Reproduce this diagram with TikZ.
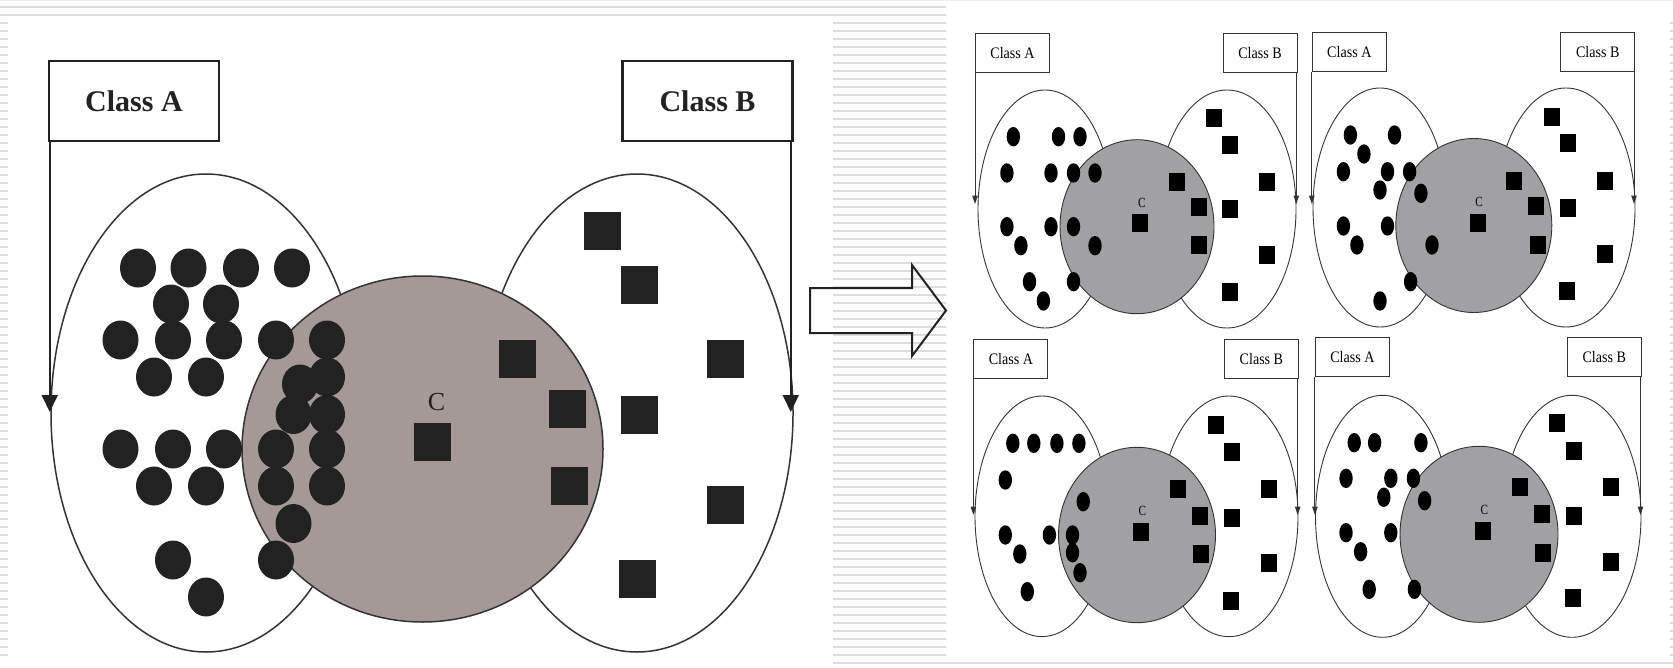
\documentclass[tikz,border=0pt]{standalone}
\usepackage{fontspec}
\setmainfont{Liberation Serif}
\usetikzlibrary{arrows.meta}
\definecolor{ink}{HTML}{222222}
\definecolor{edge}{HTML}{333333}
\definecolor{bigdisc}{HTML}{A59998}
\definecolor{smalldisc}{HTML}{A1A1A3}
\definecolor{stripe}{HTML}{DDDDDD}
\begin{document}
\begin{tikzpicture}[x=0.5pt,y=-0.5pt,
  stripeline/.style={draw=stripe,line width=0.9pt},
  bigbox/.style={draw=ink,line width=1.25pt,fill=white,minimum width=85pt,minimum height=40pt,inner sep=0pt,
    text=ink,font=\bfseries\fontsize{15}{18}\selectfont},
  smallbox/.style={draw=edge,line width=0.5pt,fill=white,minimum width=37pt,minimum height=19.5pt,inner sep=0pt,
    font=\fontsize{8}{10}\selectfont},
  bigoval/.style={draw=edge,line width=0.75pt,fill=white},
  smalloval/.style={draw=edge,line width=0.45pt,fill=white},
  bigcore/.style={draw=edge,line width=0.75pt,fill=bigdisc},
  smallcore/.style={draw=edge,line width=0.45pt,fill=smalldisc},
  bigarrow/.style={draw=ink,line width=1pt,-{Triangle[length=8.5pt,width=8pt]}},
  smallarrow/.style={draw=edge,line width=0.5pt,-{Triangle[length=4.2pt,width=2.7pt]}},
  bigc/.style={inner sep=0pt,text=ink,font=\fontsize{13}{15}\selectfont},
  smallc/.style={inner sep=0pt,font=\fontsize{7}{8}\selectfont},
]
\useasboundingbox (0,0) rectangle (1673,668);

% ---- striped page background ----
\draw[draw=black!7,line width=0.5pt] (0,0.8) -- (1673,0.8);
\draw[stripeline] (0,7) -- (946,7);
\draw[stripeline] (0,15) -- (946,15);
\foreach \k in {0,...,79}{
  \draw[stripeline] (0,{23+8*\k}) -- (8,{23+8*\k});
  \draw[stripeline] (833,{23+8*\k}) -- (946,{23+8*\k});
  \draw[stripeline] (1670,{23+8*\k}) -- (1673,{23+8*\k});
}
\draw[stripeline] (833,663) -- (1673,663);

% ---- large panel ----
\draw[bigoval] (206,413) ellipse [x radius=155, y radius=239];
\draw[bigoval] (637,413) ellipse [x radius=156, y radius=239];
\draw[bigcore] (422.5,449) ellipse [x radius=180.5, y radius=173];
\foreach \x/\y in {138/268,188.5/268,241/268,292/268,
  171/304,221/304,
  120.5/340,173/340,224/340,276/340,327/340,
  154/377,206/377,300/384,327/377,
  293.5/414.5,327/414.5,
  120.5/449,173/449,224/449,276/449,327/449,
  154/486,206/486,276/486,327/486,
  293.5/523.5,
  173/560,276/560,
  206/597}
  \fill[ink] (\x,\y) ellipse [x radius=18, y radius=19.5];
\foreach \x/\y in {602/231,639.5/285,517/359,725/359,567/409,639.5/414.5,569/486,725/505,637/579,432/442}
  \fill[ink] ({\x-18.5},{\y-19}) rectangle ({\x+18.5},{\y+19});
\node[bigc] (bigC) at (436.5,402.5) {C};
\node[bigbox] (bigA) at (134,101) {Class A};
\node[bigbox] (bigB) at (707.5,101) {Class B};
\coordinate (bigAend) at (51,412);
\coordinate (bigBend) at (790,412);
\draw[bigarrow] ([xshift=1pt]bigA.south west) -- ([xshift=1pt]bigA.south west |- bigAend);
\draw[bigarrow] ([xshift=-1.5pt]bigB.south east) -- ([xshift=-1.5pt]bigB.south east |- bigBend);

% ---- hollow transition arrow ----
\draw[draw=ink,line width=1pt] (810,288) -- (912,288) -- (912,265) -- (946,310.5)
  -- (912,356) -- (912,333) -- (810,333) -- cycle;

% ---- small panel 1 (top left) ----
\draw[smalloval] (1045,209) ellipse [x radius=67, y radius=119];
\draw[smalloval] (1227,209) ellipse [x radius=69, y radius=119];
\draw[smallcore] (1137,226.7) ellipse [x radius=77, y radius=87];
\foreach \x/\y in {1013.3/136.7,1058.5/136.7,1080/136.7,
  1006.9/173,1051/173,1073.5/173,1095/173,
  1006.9/226.7,1020.9/245.7,1051/226.7,1073.5/226.7,1095/245.7,
  1029.5/281.7,1043.4/301,1073.5/281.7}
  \fill (\x,\y) ellipse [x radius=6.7, y radius=9.7];
\foreach \x/\y in {1213.9/118.3,1230/145,1177.3/182,1267/182,1198.8/207.3,1230/209.3,1198.8/245.3,1267/255,1230/291.7,1140/223.3}
  \fill ({\x-8},{\y-9}) rectangle ({\x+8},{\y+9});
\node[smallc] (c1) at (1141.8,203.3) {\scalebox{0.8}[1]{C}};
\node[smallbox] (a1) at (1012.5,53.5) {\scalebox{0.88}[1]{Class A}};
\node[smallbox] (b1) at (1260,53.5) {\scalebox{0.88}[1]{Class B}};
\coordinate (a1end) at (976,204);
\coordinate (b1end) at (1296,204);
\draw[smallarrow] (a1.south west) -- (a1.south west |- a1end);
\draw[smallarrow] ([xshift=-0.6pt]b1.south east) -- ([xshift=-0.6pt]b1.south east |- b1end);

% ---- small panel 2 (top right) ----
\draw[smalloval] (1380,207.5) ellipse [x radius=67, y radius=119.5];
\draw[smalloval] (1566,207.5) ellipse [x radius=69, y radius=119.5];
\draw[smallcore] (1473.8,225.5) ellipse [x radius=78, y radius=87];
\foreach \x/\y in {1350.4/135,1394.5/135,1363.9/154,
  1343.4/171.7,1387.5/171.7,1409.6/171.7,1380/190,1420.9/193.3,
  1343.4/226,1387.5/226,1356.9/245,1432/245,
  1410.6/281.7,1380/301}
  \fill (\x,\y) ellipse [x radius=6.7, y radius=9.7];
\foreach \x/\y in {1552/116.7,1568/143.3,1514.4/180.7,1604.7/180.7,1535.9/206,1568/208.3,1537.5/245,1604.7/254,1566.5/290.7,1477.8/223.3}
  \fill ({\x-8},{\y-9}) rectangle ({\x+8},{\y+9});
\node[smallc] (c2) at (1479,202) {\scalebox{0.8}[1]{C}};
\node[smallbox] (a2) at (1349.3,51.8) {\scalebox{0.88}[1]{Class A}};
\node[smallbox] (b2) at (1597.7,51.8) {\scalebox{0.88}[1]{Class B}};
\coordinate (a2end) at (1312,204);
\coordinate (b2end) at (1634,204);
\draw[smallarrow] (a2.south west) -- (a2.south west |- a2end);
\draw[smallarrow] ([xshift=-0.6pt]b2.south east) -- ([xshift=-0.6pt]b2.south east |- b2end);

% ---- small panel 3 (bottom left) ----
\draw[smalloval] (1042,516.3) ellipse [x radius=67, y radius=120.3];
\draw[smalloval] (1229,516.3) ellipse [x radius=69, y radius=120.3];
\draw[smallcore] (1137,535) ellipse [x radius=78.5, y radius=87.7];
\foreach \x/\y in {1012.8/443.3,1033.8/443.3,1056.9/443.3,1078.9/443.3,
  1005.3/480,1083.2/501.7,
  1005.3/535,1049.4/535,1072.5/535,
  1019.8/554,1072.5/552.7,1080/572.7,1027.3/591.7}
  \fill (\x,\y) ellipse [x radius=6.7, y radius=9.7];
\foreach \x/\y in {1215.5/425,1231.6/452.3,1177.8/489.3,1268.7/489.3,1199.9/516,1231.6/517.7,1201/554,1268.7/563.3,1230.5/600.7,1140.8/531.7}
  \fill ({\x-8},{\y-9}) rectangle ({\x+8},{\y+9});
\node[smallc] (c3) at (1142.4,511) {\scalebox{0.8}[1]{C}};
\node[smallbox] (a3) at (1010.9,359.2) {\scalebox{0.88}[1]{Class A}};
\node[smallbox] (b3) at (1261.4,359.2) {\scalebox{0.88}[1]{Class B}};
\coordinate (a3end) at (973.5,515);
\coordinate (b3end) at (1297.7,515);
\draw[smallarrow] (a3.south west) -- (a3.south west |- a3end);
\draw[smallarrow] ([xshift=-0.6pt]b3.south east) -- ([xshift=-0.6pt]b3.south east |- b3end);

% ---- small panel 4 (bottom right) ----
\draw[smalloval] (1382.5,516.3) ellipse [x radius=67, y radius=121];
\draw[smalloval] (1572,516.3) ellipse [x radius=69, y radius=121];
\draw[smallcore] (1479,534.3) ellipse [x radius=79, y radius=88];
\foreach \x/\y in {1354.2/442.7,1374.6/442.7,1420.9/442.7,
  1346/478.3,1390.8/478.3,1413.4/478.3,1383.8/497.3,1424.6/500.7,
  1346/532.7,1390.8/532.7,1360.6/551.7,
  1369.2/589.3,1414.4/589.3}
  \fill (\x,\y) ellipse [x radius=6.7, y radius=9.7];
\foreach \x/\y in {1557.4/423.3,1574/450.7,1520.3/487.3,1611.2/487.3,1542.4/514,1574/516,1543/552.7,1611.2/562.3,1573/598.3,1483.2/531}
  \fill ({\x-8},{\y-9}) rectangle ({\x+8},{\y+9});
\node[smallc] (c4) at (1484.3,510) {\scalebox{0.8}[1]{C}};
\node[smallbox] (a4) at (1352.4,356.7) {\scalebox{0.88}[1]{Class A}};
\node[smallbox] (b4) at (1604.2,356.7) {\scalebox{0.88}[1]{Class B}};
\coordinate (a4end) at (1315,515);
\coordinate (b4end) at (1640.7,515);
\draw[smallarrow] (a4.south west) -- (a4.south west |- a4end);
\draw[smallarrow] ([xshift=-0.6pt]b4.south east) -- ([xshift=-0.6pt]b4.south east |- b4end);
\end{tikzpicture}
\end{document}
